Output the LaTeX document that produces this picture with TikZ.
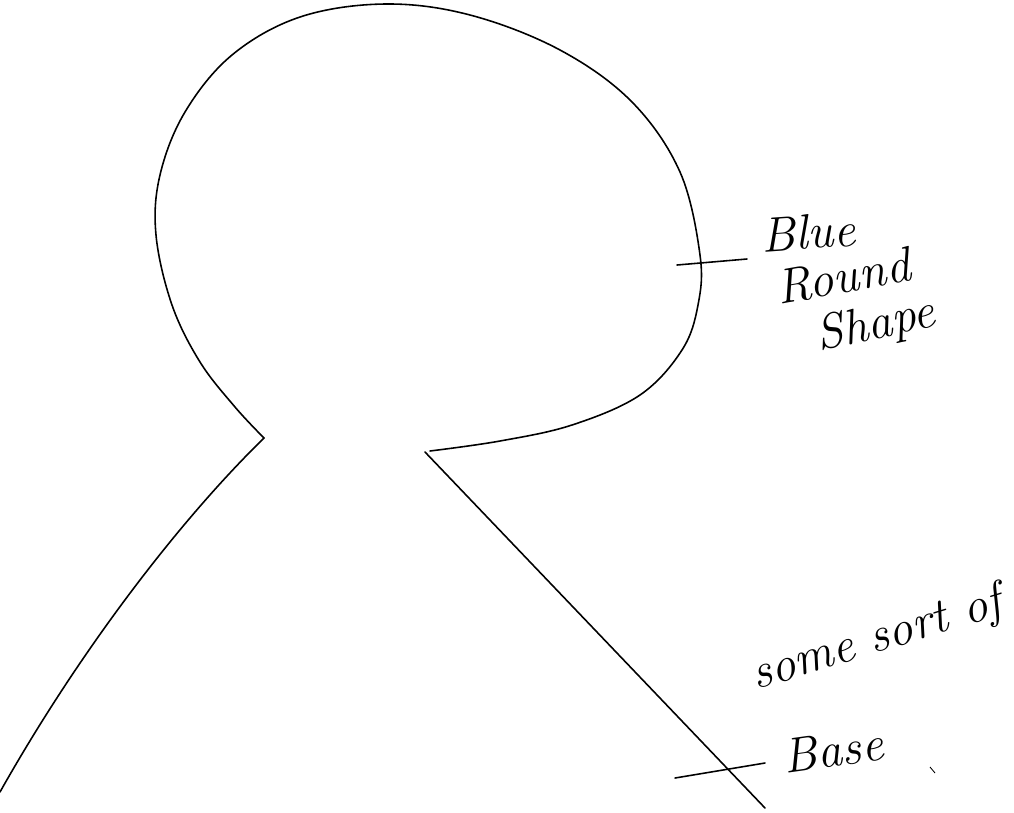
\documentclass[tikz,border=0pt]{standalone}
\begin{document}
\begin{tikzpicture}[x=0.02cm,y=-0.02cm,
  pen/.style={line width=0.9pt,line cap=round,line join=round},
  hand/.style={font=\itshape\fontsize{28}{30}\selectfont,inner sep=0pt}]
\useasboundingbox (0,0) rectangle (1014,812);
% head outline
\draw[pen] plot[smooth,tension=0.6] coordinates {
 (264,438) (235,407) (200,362) (172,305) (156,235) (160,175) (185,112)
 (232,55) (300,17) (385,4) (470,15) (560,50) (632,102) (680,172)
 (700,255) (698,305) (682,350) (640,395) (572,425) (500,441) (430,451)};
% left side of base
\draw[pen] (264,438) .. controls (180,520) and (80,650) .. (0,792);
% right side of base
\draw[pen] (425,452) -- (765,808);
% label ticks
\coordinate (t1a) at (677,265);
\coordinate (t1b) at (747,259);
\draw[pen] (t1a) -- (t1b);
\coordinate (t2a) at (675,778);
\coordinate (t2b) at (765,763);
\draw[pen] (t2a) -- (t2b);
\coordinate (m1) at (930,767);
\coordinate (m2) at (935,773);
\draw[line width=0.5pt] (m1) -- (m2);
% labels
\node[hand,rotate=4] (blue) at (808,232) {Blue};
\node[hand,rotate=10] (round) at (843,276) {Round};
\node[hand,rotate=12] (shape) at (876,326) {Shape};
\node[hand,rotate=17] (sort) at (877,640) {some sort of};
\node[hand,rotate=8] (base) at (833,750) {Base};
\end{tikzpicture}
\end{document}
